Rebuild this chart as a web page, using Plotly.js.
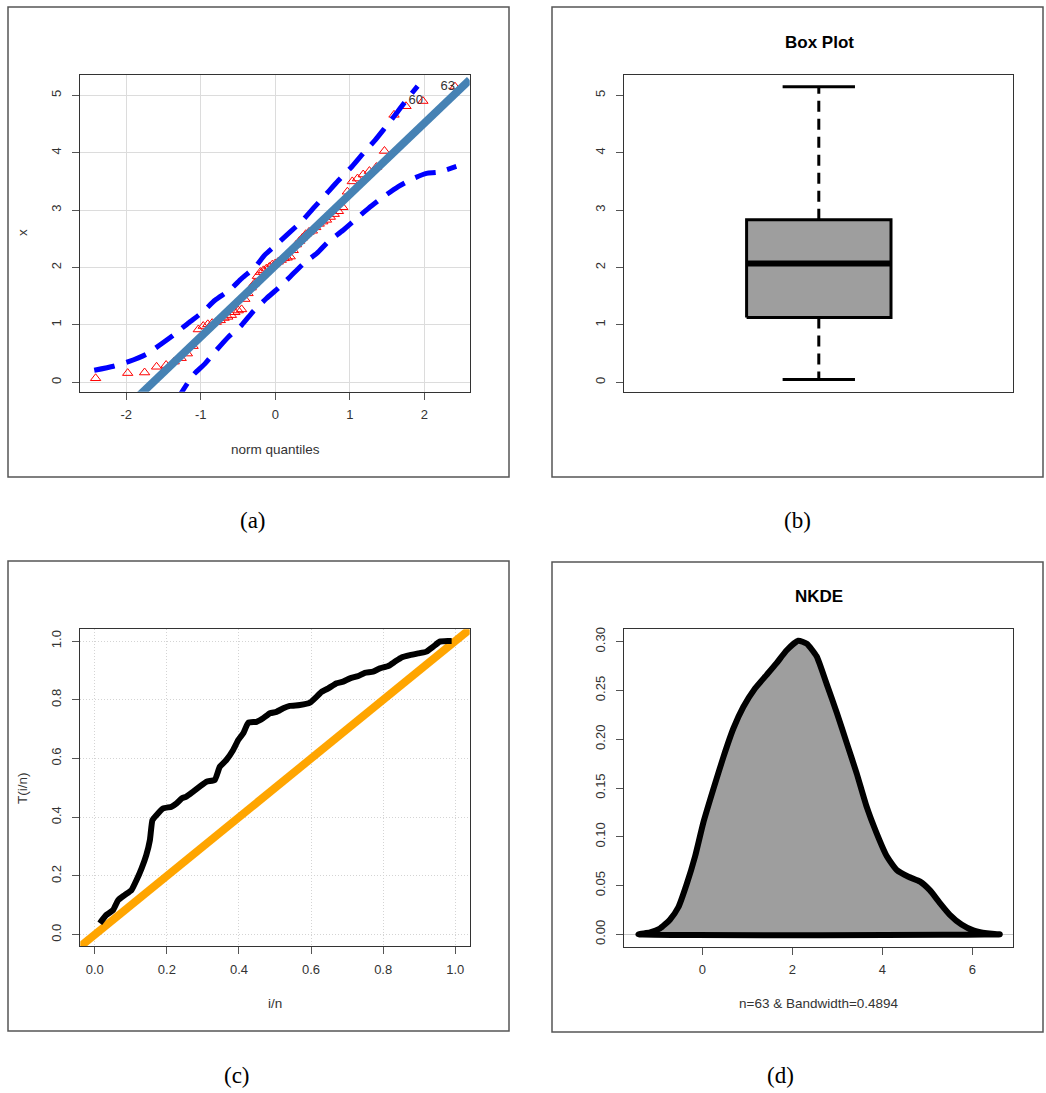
<!DOCTYPE html>
<html>
<head>
<meta charset="utf-8">
<script src="https://cdn.plot.ly/plotly-3.0.1.min.js"></script>
<style>
  html, body { margin: 0; padding: 0; background: #ffffff; }
  #chart { width: 1046px; height: 1093px; }
</style>
</head>
<body>
<div id="chart"></div>
<script>
// ---------------- DATA ----------------
// (a) QQ plot: theoretical normal quantiles and sorted sample values
const qqTheo = [-2.4115,-1.9808,-1.7541,-1.5932,-1.4652,-1.3571,-1.2632,-1.1798,-1.1035,-1.0330,
  -0.9674,-0.9058,-0.8473,-0.7916,-0.7384,-0.6872,-0.6378,-0.5895,-0.5430,-0.4972,
  -0.4523,-0.4089,-0.3661,-0.3242,-0.2822,-0.2408,-0.2002,-0.1598,-0.1197,-0.0797,
  -0.0398,0,0.0398,0.0797,0.1197,0.1598,0.2002,0.2408,0.2822,0.3242,
  0.3661,0.4089,0.4523,0.4972,0.5430,0.5895,0.6378,0.6872,0.7384,0.7916,
  0.8473,0.9058,0.9674,1.0330,1.1035,1.1798,1.2632,1.3571,1.4652,1.5932,
  1.7541,1.9808,2.4115];
const qqSample = [0.07,0.16,0.17,0.27,0.30,0.36,0.42,0.50,0.63,0.92,
  0.98,1.01,1.03,1.05,1.08,1.12,1.14,1.17,1.22,1.25,
  1.27,1.45,1.55,1.65,1.72,1.85,1.92,1.95,1.98,2.01,
  2.05,2.07,2.10,2.13,2.16,2.17,2.19,2.30,2.40,2.46,
  2.52,2.58,2.62,2.64,2.70,2.76,2.80,2.83,2.88,2.93,
  2.98,3.05,3.32,3.50,3.55,3.62,3.68,3.75,4.03,4.66,
  4.81,4.90,5.15];
const qqLineIntercept = 2.034;
const qqLineSlope = 1.24;
const envUpX = [-2.43,-2.17,-1.97,-1.73,-1.55,-1.35,-1.17,-0.97,-0.81,-0.61,-0.45,-0.27,-0.14,0.04,0.20,0.35,0.53,0.69,0.85,1.03,1.18,1.34,1.47,1.61,1.76,1.91];
const envUpY = [0.21,0.28,0.36,0.49,0.65,0.84,1.03,1.23,1.43,1.61,1.81,2.01,2.22,2.43,2.62,2.80,3.06,3.29,3.52,3.76,3.99,4.22,4.43,4.66,4.92,5.16];
const envLoX = [-1.33,-1.235,-1.10,-0.94,-0.79,-0.63,-0.45,-0.30,-0.12,0.04,0.20,0.38,0.56,0.71,0.91,1.07,1.25,1.45,1.65,1.85,2.03,2.18,2.43];
const envLoY = [-0.33,-0.13,0.13,0.33,0.56,0.79,1.00,1.23,1.46,1.64,1.84,2.07,2.25,2.45,2.65,2.83,3.03,3.23,3.41,3.55,3.64,3.66,3.76];
const qqIdLabels = ['63','60'];
const qqIdRanks = [63, 62];
const xTicksA = [-2,-1,0,1,2];
const xTickTextA = ['-2','-1','0','1','2'];
const yTicksA = [0,1,2,3,4,5];
const yTickTextA = ['0','1','2','3','4','5'];

// (b) Box plot statistics
const boxStatNames = ['lower whisker','Q1','median','Q3','upper whisker'];
const boxStats = [0.05, 1.13, 2.07, 2.83, 5.15];

// (c) TTT plot
const tttX = [0.014,0.032,0.051,0.065,0.083,0.102,0.116,0.130,0.143,0.153,0.160,0.171,0.190,0.213,0.227,0.241,0.254,0.273,0.291,0.310,0.333,0.347,0.365,0.384,0.398,0.412,0.426,0.449,0.467,0.486,0.504,0.523,0.541,0.569,0.597,0.615,0.629,0.648,0.671,0.689,0.708,0.731,0.749,0.772,0.791,0.814,0.833,0.851,0.874,0.897,0.920,0.939,0.957,0.980,0.990];
const tttY = [0.039,0.067,0.084,0.118,0.135,0.152,0.186,0.226,0.271,0.322,0.390,0.407,0.430,0.436,0.447,0.464,0.470,0.487,0.504,0.521,0.527,0.572,0.595,0.629,0.663,0.686,0.722,0.725,0.737,0.754,0.759,0.771,0.779,0.782,0.790,0.810,0.827,0.839,0.856,0.862,0.873,0.881,0.892,0.896,0.907,0.915,0.930,0.944,0.952,0.958,0.964,0.981,0.998,1.0,1.0];
const tttRefIntercept = 0;
const tttRefSlope = 1;
const xTicksC = [0,0.2,0.4,0.6,0.8,1.0];
const tickTextC = ['0.0','0.2','0.4','0.6','0.8','1.0'];

// (d) NKDE density
const densX = [-1.42,-1.16,-0.94,-0.72,-0.53,-0.35,-0.16,0.02,0.24,0.47,0.69,0.91,1.17,1.43,1.65,1.87,2.13,2.32,2.54,2.76,2.99,3.21,3.43,3.65,3.87,4.10,4.32,4.58,4.84,5.06,5.28,5.50,5.76,6.02,6.32,6.61];
const densY = [0.0,0.002,0.006,0.015,0.028,0.051,0.080,0.114,0.148,0.182,0.211,0.233,0.252,0.266,0.278,0.291,0.301,0.298,0.285,0.257,0.227,0.196,0.165,0.131,0.104,0.080,0.066,0.059,0.054,0.045,0.032,0.020,0.010,0.004,0.001,0.0];
const xTicksD = [0,2,4,6];
const xTickTextD = ['0','2','4','6'];
const yTicksD = [0,0.05,0.10,0.15,0.20,0.25,0.30];
const yTickTextD = ['0.00','0.05','0.10','0.15','0.20','0.25','0.30'];

// ---------------- LAYOUT HELPERS ----------------
const W = 1046, H = 1093;
const px = v => v / W;
const py = v => 1 - v / H;
const FONT = 'Liberation Sans, Arial, sans-serif';
const SERIF = 'Liberation Serif, Times New Roman, serif';

const rangeA_x = [-2.617, 2.609];
const rangeA_y = [-0.164, 5.354];
const rangeB_x = [0.5, 1.5];
const rangeC = [-0.04, 1.04];
const rangeC_y = [-0.0395, 1.04];
const rangeD_x = [-1.74, 6.91];
const rangeD_y = [-0.0127, 0.3127];

function axisBase(extra) {
  return Object.assign({
    showline: true, mirror: true, linecolor: '#333333', linewidth: 1,
    ticks: 'outside', ticklen: 7, tickwidth: 1, tickcolor: '#555555',
    tickfont: {family: FONT, size: 13, color: '#333333'},
    zeroline: false, showgrid: false, fixedrange: true, automargin: false,
    tickmode: 'array'
  }, extra);
}

// ---------------- TRACES ----------------
const traces = [];

// (a)
const lineXs = rangeA_x;
traces.push({
  x: qqTheo, y: qqSample, xaxis: 'x', yaxis: 'y', type: 'scatter', mode: 'markers',
  marker: {symbol: 'triangle-up-open', size: 9, color: '#ff0000', line: {width: 1, color: '#ff0000'}},
  hoverinfo: 'skip'
});
traces.push({
  x: lineXs, y: lineXs.map(v => qqLineIntercept + qqLineSlope * v),
  xaxis: 'x', yaxis: 'y', type: 'scatter', mode: 'lines',
  line: {color: '#4682B4', width: 8}, hoverinfo: 'skip'
});
traces.push({
  x: envUpX, y: envUpY, xaxis: 'x', yaxis: 'y', type: 'scatter', mode: 'lines',
  line: {color: '#0000ff', width: 5, dash: '21px,12px', shape: 'spline', smoothing: 0.6}, hoverinfo: 'skip'
});
traces.push({
  x: envLoX, y: envLoY, xaxis: 'x', yaxis: 'y', type: 'scatter', mode: 'lines',
  line: {color: '#0000ff', width: 5, dash: '21px,12px', shape: 'spline', smoothing: 0.6}, hoverinfo: 'skip'
});
traces.push({
  x: qqIdRanks.map(r => qqTheo[r - 1]), y: qqIdRanks.map(r => qqSample[r - 1]),
  text: qqIdLabels, xaxis: 'x', yaxis: 'y', type: 'scatter', mode: 'text',
  textposition: 'middle left', textfont: {family: FONT, size: 13, color: '#333333'},
  hoverinfo: 'skip', cliponaxis: false
});

// (b) box plot built from statistics
const bxC = 1, bxHalf = 0.1856, capHalf = 0.093;
const [bLo, bQ1, bMed, bQ3, bHi] = boxStats;
traces.push({
  x: [bxC - bxHalf, bxC + bxHalf, bxC + bxHalf, bxC - bxHalf, bxC - bxHalf],
  y: [bQ1, bQ1, bQ3, bQ3, bQ1],
  xaxis: 'x2', yaxis: 'y2', type: 'scatter', mode: 'lines', fill: 'toself',
  fillcolor: '#9e9e9e', line: {color: '#000000', width: 3}, hoverinfo: 'skip'
});
traces.push({
  x: [bxC, bxC], y: [bQ3, bHi], xaxis: 'x2', yaxis: 'y2', type: 'scatter', mode: 'lines',
  line: {color: '#000000', width: 3, dash: '11px,7px'}, hoverinfo: 'skip'
});
traces.push({
  x: [bxC, bxC], y: [bQ1, bLo], xaxis: 'x2', yaxis: 'y2', type: 'scatter', mode: 'lines',
  line: {color: '#000000', width: 3, dash: '11px,7px'}, hoverinfo: 'skip'
});
traces.push({
  x: [bxC - capHalf, bxC + capHalf], y: [bHi, bHi], xaxis: 'x2', yaxis: 'y2', type: 'scatter', mode: 'lines',
  line: {color: '#000000', width: 3}, hoverinfo: 'skip'
});
traces.push({
  x: [bxC - capHalf, bxC + capHalf], y: [bLo, bLo], xaxis: 'x2', yaxis: 'y2', type: 'scatter', mode: 'lines',
  line: {color: '#000000', width: 3}, hoverinfo: 'skip'
});
traces.push({
  x: [bxC - bxHalf, bxC + bxHalf], y: [bMed, bMed], xaxis: 'x2', yaxis: 'y2', type: 'scatter', mode: 'lines',
  line: {color: '#000000', width: 6}, hoverinfo: 'skip'
});

// (c) TTT
traces.push({
  x: rangeC, y: rangeC.map(v => tttRefIntercept + tttRefSlope * v),
  xaxis: 'x3', yaxis: 'y3', type: 'scatter', mode: 'lines',
  line: {color: '#FFA500', width: 8}, hoverinfo: 'skip'
});
traces.push({
  x: tttX, y: tttY, xaxis: 'x3', yaxis: 'y3', type: 'scatter', mode: 'lines',
  line: {color: '#000000', width: 6, shape: 'spline', smoothing: 0.4}, hoverinfo: 'skip'
});

// (d) NKDE
traces.push({
  x: densX.concat([densX[0]]), y: densY.concat([densY[0]]),
  xaxis: 'x4', yaxis: 'y4', type: 'scatter', mode: 'lines', fill: 'toself',
  fillcolor: '#9e9e9e', line: {color: '#000000', width: 6, shape: 'spline', smoothing: 0.5}, hoverinfo: 'skip'
});

// ---------------- LAYOUT ----------------
const dom = {
  ax: [px(80.3), px(469.7)], ay: [py(391.7), py(75)],
  bx: [px(624.3), px(1013.3)], by: [py(391.7), py(75)],
  cx: [px(80.3), px(469.7)], cy: [py(946.3), py(629.3)],
  dx: [px(624), px(1013.3)], dy: [py(946.7), py(629.3)]
};

function ann(text, x, y, opts) {
  return Object.assign({
    text: text, x: px(x), y: py(y), xref: 'paper', yref: 'paper',
    xanchor: 'center', yanchor: 'middle', showarrow: false,
    font: {family: FONT, size: 13.5, color: '#333333'}
  }, opts || {});
}

const borderColor = '#555555';
function border(x0, y0, x1, y1) {
  return {type: 'rect', xref: 'paper', yref: 'paper', x0: px(x0), x1: px(x1), y0: py(y0), y1: py(y1),
    line: {color: borderColor, width: 1.5}, fillcolor: 'rgba(0,0,0,0)', layer: 'below'};
}

const layout = {
  width: W, height: H,
  margin: {l: 0, r: 0, t: 0, b: 0, pad: 0},
  paper_bgcolor: '#ffffff', plot_bgcolor: '#ffffff',
  showlegend: false,
  xaxis: axisBase({domain: dom.ax, anchor: 'y', range: rangeA_x, tickvals: xTicksA, ticktext: xTickTextA,
    showgrid: true, gridcolor: '#dcdcdc', gridwidth: 1, ticklabelstandoff: 4}),
  yaxis: axisBase({domain: dom.ay, anchor: 'x', range: rangeA_y, tickvals: yTicksA, ticktext: yTickTextA,
    showgrid: true, gridcolor: '#dcdcdc', gridwidth: 1, tickangle: -90, ticklabelstandoff: 6}),
  xaxis2: axisBase({domain: dom.bx, anchor: 'y2', range: rangeB_x, ticks: '', showticklabels: false, tickvals: []}),
  yaxis2: axisBase({domain: dom.by, anchor: 'x2', range: rangeA_y, tickvals: yTicksA, ticktext: yTickTextA,
    tickangle: -90, ticklabelstandoff: 6}),
  xaxis3: axisBase({domain: dom.cx, anchor: 'y3', range: rangeC, tickvals: xTicksC, ticktext: tickTextC,
    showgrid: true, gridcolor: '#d4d4d4', gridwidth: 1, griddash: '1px,2px', ticklabelstandoff: 4}),
  yaxis3: axisBase({domain: dom.cy, anchor: 'x3', range: rangeC_y, tickvals: xTicksC, ticktext: tickTextC,
    showgrid: true, gridcolor: '#d4d4d4', gridwidth: 1, griddash: '1px,2px', tickangle: -90, ticklabelstandoff: 6}),
  xaxis4: axisBase({domain: dom.dx, anchor: 'y4', range: rangeD_x, tickvals: xTicksD, ticktext: xTickTextD, ticklabelstandoff: 4}),
  yaxis4: axisBase({domain: dom.dy, anchor: 'x4', range: rangeD_y, tickvals: yTicksD, ticktext: yTickTextD,
    tickangle: -90, ticklabelstandoff: 6, zeroline: true, zerolinecolor: '#c8c8c8', zerolinewidth: 1.5}),
  shapes: [
    border(8, 7, 509, 477),
    border(552, 7, 1043, 477),
    border(8, 561, 509, 1031),
    border(552, 562, 1043, 1032)
  ],
  annotations: [
    ann('norm quantiles', 275, 449),
    ann('x', 22, 233, {textangle: -90}),
    ann('<b>Box Plot</b>', 819, 43, {font: {family: FONT, size: 17, color: '#000000'}}),
    ann('i/n', 275, 1003),
    ann('T(i/n)', 22, 788, {textangle: -90}),
    ann('<b>NKDE</b>', 819, 597, {font: {family: FONT, size: 17, color: '#000000'}}),
    ann('n=63 &amp; Bandwidth=0.4894', 819, 1003),
    ann('(a)', 253, 520, {font: {family: SERIF, size: 23, color: '#000000'}}),
    ann('(b)', 797, 520, {font: {family: SERIF, size: 23, color: '#000000'}}),
    ann('(c)', 237, 1075, {font: {family: SERIF, size: 23, color: '#000000'}}),
    ann('(d)', 780, 1075, {font: {family: SERIF, size: 23, color: '#000000'}})
  ]
};

Plotly.newPlot('chart', traces, layout, {displayModeBar: false, staticPlot: true});
</script>
</body>
</html>
